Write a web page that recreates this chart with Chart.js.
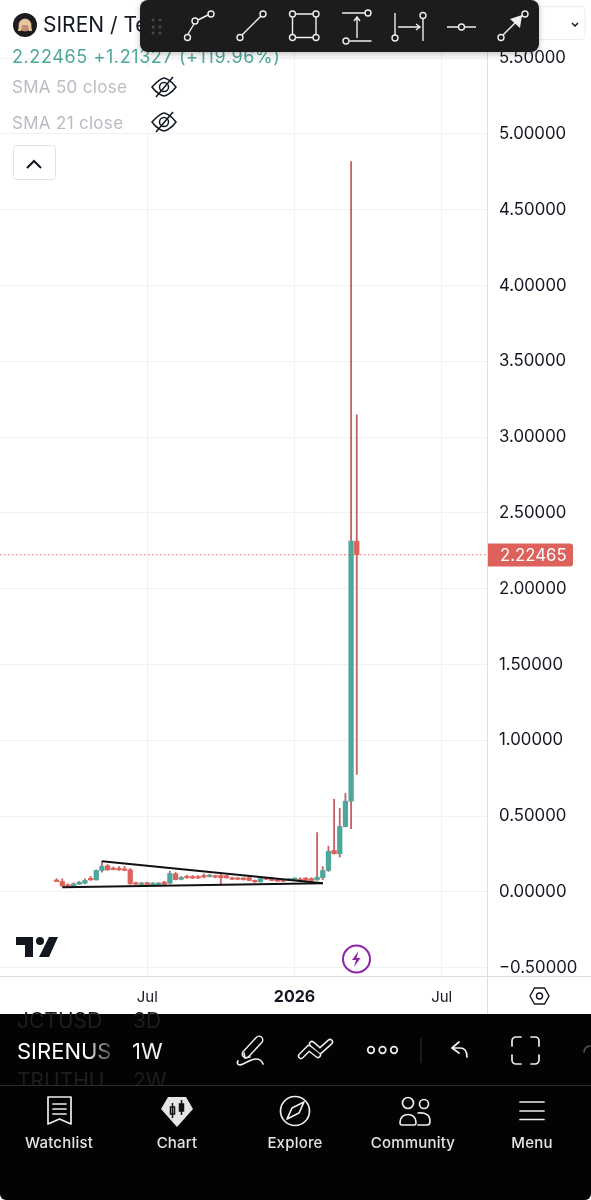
<!DOCTYPE html>
<html><head><meta charset="utf-8">
<style>
html,body{margin:0;padding:0;background:#fff;width:591px;height:1200px;overflow:hidden}
#c{position:absolute;left:0;top:0}
#ui{position:absolute;left:0;top:0;pointer-events:none;font-family:Inter,"Noto Sans",sans-serif}
</style>
<script src="https://cdn.jsdelivr.net/npm/chart.js@4/dist/chart.umd.min.js"></script>
</head><body>
<canvas id="c" width="591" height="1014" style="width:591px;height:1014px"></canvas>
<svg id="ui" width="591" height="1200" viewBox="0 0 591 1200" xmlns="http://www.w3.org/2000/svg">
 <defs><filter id="sh" x="-5%" y="-30%" width="110%" height="170%"><feDropShadow dx="0" dy="2" stdDeviation="3" flood-color="#000" flood-opacity=".25"/></filter>
 <linearGradient id="fade" x1="0" x2="1"><stop offset="0.72" stop-color="#fff"/><stop offset="1" stop-color="#444"/></linearGradient></defs>
 <!-- axis separators -->
 <rect x="487" y="976" width="1" height="38" fill="#dcdde2"/>
 <rect x="488" y="976" width="103" height="1" fill="#dcdde2"/>
 <!-- header legend -->
 <rect x="0" y="68" width="190" height="64" fill="#fff"/>
 <circle cx="25" cy="25" r="12" fill="#1c1c1e"/><circle cx="25" cy="25" r="6.5" fill="#c98a72"/><path d="M19 25a6 6 0 0 1 12 0l1 6h-3l-1-6h-6l-1 6h-3z" fill="#e3c8a0"/>
 <text x="43" y="32" font-size="21" fill="#131722">SIREN / Te</text>
 <text x="12" y="62.500" font-size="18" letter-spacing=".6" fill="#4fa69a">2.22465 +1.21327 (+119.96%)</text>
 <text x="12" y="93" font-size="17" letter-spacing=".3" fill="#b8bbc2">SMA 50 close</text>
 <text x="12" y="128.500" font-size="17" letter-spacing=".3" fill="#b8bbc2">SMA 21 close</text>
 <g fill="none" stroke="#131722" stroke-width="1.5">
  <path d="M152 87c6-7 11-9 12-9s7 2 12 9c-5 7-11 9-12 9s-7-2-12-9z"/><circle cx="164" cy="87" r="4.5"/><path d="M156 97l17-20"/>
  <path d="M152 122c6-7 11-9 12-9s7 2 12 9c-5 7-11 9-12 9s-7-2-12-9z"/><circle cx="164" cy="122" r="4.5"/><path d="M156 132l17-20"/>
 </g>
 <rect x="13.5" y="145.5" width="42" height="34" rx="3" fill="#fff" stroke="#e0e3eb"/>
 <path d="M27 168l7-7 7 7" fill="none" stroke="#131722" stroke-width="2"/>
 <!-- right-top dropdown -->
 <rect x="520" y="6.5" width="65" height="33" rx="4" fill="#fff" stroke="#eceef2"/>
 <path d="M572 23l3 3 3-3" fill="none" stroke="#131722" stroke-width="1.5"/>
 <!-- drawing toolbar -->
 <rect x="140" y="0" width="399" height="52" rx="8" fill="#1e1e1e" filter="url(#sh)"/>
 <g fill="#4a4a4a"><circle cx="153" cy="20" r="1.5"/><circle cx="160" cy="20" r="1.5"/><circle cx="153" cy="27" r="1.5"/><circle cx="160" cy="27" r="1.5"/><circle cx="153" cy="33" r="1.5"/><circle cx="160" cy="33" r="1.5"/></g>
 <g fill="none" stroke="#eee" stroke-width="1.4">
  <path d="M188 34l6-10M198 20l10-5"/><circle cx="187.5" cy="37.5" r="3"/><circle cx="195" cy="21" r="3"/><circle cx="211" cy="14" r="3"/>
  <path d="M242 35l19-19"/><circle cx="240" cy="37.5" r="3"/><circle cx="263" cy="14" r="3"/>
  <path d="M296 14h17M296 37.5h17M292.5 17v17M316 17v17"/><circle cx="292.5" cy="14" r="3"/><circle cx="316" cy="14" r="3"/><circle cx="292.5" cy="37.5" r="3"/><circle cx="316" cy="37.5" r="3"/>
  <path d="M342 13h23M349.500 41h22M357 38V18M354 21l3-4 3 4"/><circle cx="368" cy="13" r="3"/><circle cx="346" cy="41" r="3"/>
  <path d="M395 13v22M398 27h21M416 24l4 3-4 3M423 19v22"/><circle cx="395" cy="38" r="3"/><circle cx="423" cy="15.500" r="3"/>
  <path d="M447 27h11M465 27h11"/><circle cx="461.500" cy="27" r="3"/>
  <path d="M503 35l19-19"/><circle cx="501" cy="37.500" r="3"/><circle cx="525" cy="14" r="3"/>
 </g>
 <path d="M522 15l-2 13-10-9z" fill="#eee"/>
 <!-- TradingView logo -->
 <path d="M16 937h17v20h-8v-12h-9zM49 937h9l-9 20h-10z" fill="#131722"/><circle cx="40" cy="941" r="4" fill="#131722"/>
 <!-- lightning -->
 <circle cx="356.500" cy="959" r="13.500" fill="#fff" stroke="#8e24aa" stroke-width="2"/>
 <path d="M358.500 951l-6.500 9h4l-2 7 6.500-9h-4z" fill="#8e24aa"/>
 <!-- settings hexagon -->
 <path d="M530 996l4.500-8h10l4.500 8-4.500 8h-10z" fill="none" stroke="#131722" stroke-width="1.4"/><circle cx="539.500" cy="996" r="3" fill="none" stroke="#131722" stroke-width="1.4"/>
 <!-- bottom panel -->
 <path d="M0 1014h591v180a6 6 0 0 1-6 6H6a6 6 0 0 1-6-6z" fill="#030303"/>
 <text x="17" y="1028" font-size="21" fill="#1e1e1e">JCTUSD</text><text x="133" y="1028" font-size="21" fill="#1e1e1e">3D</text>
 <text x="17" y="1059" font-size="22" fill="url(#fade)">SIRENUS</text><text x="132" y="1059" font-size="22" fill="#f0f0f0">1W</text>
 <text x="17" y="1088" font-size="21" fill="#1e1e1e">TRUTHU</text><text x="133" y="1088" font-size="21" fill="#1e1e1e">2W</text>
 <rect x="0" y="1086" width="591" height="106" fill="#030303"/><rect x="0" y="1085" width="591" height="1" fill="#2a2a2a"/>
 <g fill="none" stroke-linecap="round" stroke-linejoin="round">
  <path d="M246 1054l13-14" stroke="#eee" stroke-width="9"/><path d="M246 1054l13-14" stroke="#030303" stroke-width="6"/>
  <path d="M244 1053l1 5 5-1M238 1061c-2 3 1 5 5 3 5-2 8-5 13-5 4 0 6 2 7 5" stroke="#eee" stroke-width="1.7"/>
  <path d="M301 1056l8-8 9 7M312 1044l8 7 10-9" stroke="#eee" stroke-width="6.500"/>
  <path d="M301 1056l8-8 9 7M312 1044l8 7 10-9" stroke="#030303" stroke-width="3.500"/>
 </g>
 <g fill="none" stroke="#eee" stroke-width="1.7" stroke-linecap="round" stroke-linejoin="round">
  <circle cx="371" cy="1050" r="3.300"/><circle cx="382.500" cy="1050" r="3.300"/><circle cx="394" cy="1050" r="3.300"/>
  <path d="M459 1042l-7 6 7 5M452 1048h8c5 0 7 4 7 9"/>
  <path d="M512 1046v-5a4 4 0 0 1 4-4h5M531 1037h4a4 4 0 0 1 4 4v5M539 1055v5a4 4 0 0 1-4 4h-4M521 1064h-5a4 4 0 0 1-4-4v-5"/>
  <path d="M590 1046a6 6 0 0 0-6 6" stroke="#555"/>
  <path d="M48 1097h23v27l-11.500-5-11.500 5zM53 1104h13M53 1109h13M53 1114h13"/>
  <circle cx="295" cy="1111" r="14.500"/><path d="M304 1102l-12 6-5 11 12-6z"/>
  <circle cx="408" cy="1103" r="5.500"/><circle cx="424" cy="1104" r="4.500"/><path d="M400 1122c0-10 16-10 16 0 0 2 0 3-2 3h-12c-2 0-2-1-2-3zM418 1113c7-1 12 2 12 8 0 3-1 4-3 4h-9"/>
  <path d="M520 1102h24M520 1111h24M520 1119.500h24"/>
 </g>
 <rect x="420.500" y="1038" width="1" height="25" fill="#333"/>
 <path d="M168 1097h18l7 12-16 18-16-18z" fill="#e6e6e6"/>
 <g stroke="#111" fill="#111" stroke-width="1.500"><path d="M172.500 1103v15M181.500 1100v15" /><rect x="170.500" y="1107" width="4" height="7" fill="none"/><rect x="179.500" y="1104" width="4" height="7"/></g>
 <g font-size="15" font-weight="500" fill="#e4e4e4" text-anchor="middle" letter-spacing=".2">
  <text x="59" y="1148">Watchlist</text><text x="177" y="1148">Chart</text><text x="295" y="1148">Explore</text><text x="413" y="1148">Community</text><text x="532" y="1148">Menu</text>
 </g>
</svg>
<script>
// Weekly categories (Mondays) on the time axis
const weeks = ['2025-01-06','2025-01-13','2025-01-20','2025-01-27','2025-02-03','2025-02-10','2025-02-17','2025-02-24','2025-03-03','2025-03-10',
'2025-03-17','2025-03-24','2025-03-31','2025-04-07','2025-04-14','2025-04-21','2025-04-28','2025-05-05','2025-05-12','2025-05-19',
'2025-05-26','2025-06-02','2025-06-09','2025-06-16','2025-06-23','2025-06-30','2025-07-07','2025-07-14','2025-07-21','2025-07-28',
'2025-08-04','2025-08-11','2025-08-18','2025-08-25','2025-09-01','2025-09-08','2025-09-15','2025-09-22','2025-09-29','2025-10-06',
'2025-10-13','2025-10-20','2025-10-27','2025-11-03','2025-11-10','2025-11-17','2025-11-24','2025-12-01','2025-12-08','2025-12-15',
'2025-12-22','2025-12-29','2026-01-05','2026-01-12','2026-01-19','2026-01-26','2026-02-02','2026-02-09','2026-02-16','2026-02-23',
'2026-03-02','2026-03-09','2026-03-16','2026-03-23','2026-03-30','2026-04-06','2026-04-13','2026-04-20','2026-04-27','2026-05-04',
'2026-05-11','2026-05-18','2026-05-25','2026-06-01','2026-06-08','2026-06-15','2026-06-22','2026-06-29','2026-07-06','2026-07-13',
'2026-07-20','2026-07-27','2026-08-03','2026-08-10','2026-08-17','2026-08-24','2026-08-31'];
const tickWeeks  = ['2025-07-07','2026-01-05','2026-07-06'];
const tickLabels = ['Jul','2026','Jul'];
const firstCandle = 10;
const opens  = [.078,.069,.047,.041,.051,.058,.089,.080,.142,.173,.157,.155,.150,.146,.061,.049,.061,.049,.049,.065,.058,.120,.084,.102,.100,.100,.109,.102,.104,.109,.107,.094,.091,.091,.094,.076,.067,.090,.091,.076,.078,.078,.082,.084,.091,.089,.080,.094,.142,.274,.252,.432,.599,2.314];
const closes = [.069,.041,.038,.054,.065,.076,.080,.142,.170,.146,.148,.146,.142,.054,.051,.058,.049,.058,.058,.051,.122,.082,.096,.094,.092,.092,.098,.109,.098,.094,.094,.084,.084,.082,.076,.067,.089,.084,.076,.071,.071,.084,.089,.076,.076,.076,.098,.142,.269,.252,.432,.599,2.314,2.22465];
const highs  = [.087,.087,.054,.061,.070,.087,.102,.146,.203,.181,.165,.168,.168,.155,.065,.065,.065,.062,.062,.071,.137,.131,.102,.111,.109,.109,.120,.118,.111,.127,.111,.098,.095,.095,.102,.080,.092,.098,.098,.080,.082,.088,.093,.094,.096,.094,.392,.168,.302,.612,.551,.650,4.818,3.148];
const lows   = [.069,.036,.036,.038,.050,.054,.076,.078,.131,.142,.146,.142,.140,.050,.049,.047,.047,.047,.047,.049,.054,.080,.080,.090,.088,.088,.094,.098,.094,.054,.090,.082,.080,.078,.074,.063,.065,.082,.074,.069,.069,.076,.080,.074,.074,.074,.077,.082,.135,.251,.230,.429,.417,.775];
const lastPrice = 2.22465;
const upperTrendWeeks = ['2025-05-12','2026-02-09'];
const upperTrendValues = [.203,.058];
const lowerTrendWeeks = ['2025-03-24','2026-02-09'];
const lowerTrendValues = [.031,.058];
const yMin = -0.5541, yMax = 5.8839, yStep = 0.5;

const UP='#4fa69a', DOWN='#dc625b', WICK='#c9636a';
const candleWeeks = weeks.slice(firstCandle, firstCandle + opens.length);

const priceLabel = {
  id:'priceLabel',
  afterDraw(chart){
    const {ctx,scales:{y}}=chart;
    const py=Math.round(y.getPixelForValue(lastPrice));
    ctx.save();
    ctx.fillStyle=DOWN;
    ctx.beginPath();ctx.roundRect(488,py-11.5,85,23,[0,3,3,0]);ctx.fill();
    ctx.fillStyle='#fff';ctx.font='16.800px Inter';ctx.textAlign='left';ctx.textBaseline='middle';
    ctx.fillText(lastPrice.toFixed(5),500,py+.5);
    ctx.restore();
  }
};

new Chart(document.getElementById('c'),{
  type:'bar',
  plugins:[priceLabel],
  data:{labels:weeks,datasets:[
    {type:'line',label:'Upper trend',data:upperTrendWeeks.map((w,i)=>({x:w,y:upperTrendValues[i]})),borderColor:'#111',borderWidth:2,pointRadius:0,order:0},
    {type:'line',label:'Lower trend',data:lowerTrendWeeks.map((w,i)=>({x:w,y:lowerTrendValues[i]})),borderColor:'#111',borderWidth:2,pointRadius:0,order:0},
    {label:'Body',data:candleWeeks.map((w,i)=>({x:w,y:[opens[i],closes[i]]})),grouped:false,barThickness:4.6,minBarLength:1.5,borderWidth:0,
      backgroundColor:candleWeeks.map((w,i)=>closes[i]>=opens[i]?UP:DOWN),order:1},
    {label:'Wick',data:candleWeeks.map((w,i)=>({x:w,y:[lows[i],highs[i]]})),grouped:false,barThickness:1.2,borderWidth:0,backgroundColor:WICK,order:2},
    {type:'line',label:'Last price',data:[{x:weeks[0],y:lastPrice},{x:weeks[weeks.length-1],y:lastPrice}],borderColor:'#e0655e',borderWidth:1.2,borderDash:[1.5,2.5],pointRadius:0,order:3}
  ]},
  options:{
    responsive:false,animation:false,events:[],
    layout:{padding:0},
    plugins:{legend:{display:false},tooltip:{enabled:false}},
    scales:{
      x:{type:'category',offset:false,
        grid:{color:'#f0f1f4',drawTicks:false,offset:false},
        border:{color:'#dcdde2',width:1},
        afterBuildTicks(s){s.ticks=s.ticks.filter(t=>tickWeeks.includes(weeks[t.value]));},
        afterFit(s){s.height=38;s.paddingLeft=0;s.paddingRight=0;},
        ticks:{autoSkip:false,maxRotation:0,minRotation:0,padding:12,color:'#131722',
          font:c=>({family:'Inter',size:c.tick&&c.tick.label==='2026'?16:15,weight:c.tick&&c.tick.label==='2026'?'700':'400'}),
          callback(v,i){return tickLabels[i];}}
      },
      y:{position:'right',min:yMin,max:yMax,
        grid:{color:'#f0f1f4',drawTicks:false},
        border:{color:'#dcdde2',width:1},
        afterFit(s){s.width=104;s.paddingTop=0;s.paddingBottom=0;},
        ticks:{stepSize:yStep,includeBounds:false,crossAlign:'near',padding:12,color:'#131722',
          font:{family:'Inter',size:16.8},
          callback(v){return (v<0?'\u2212':'')+Math.abs(v).toFixed(5);}}
      }
    }
  }
});
</script>
</body></html>
